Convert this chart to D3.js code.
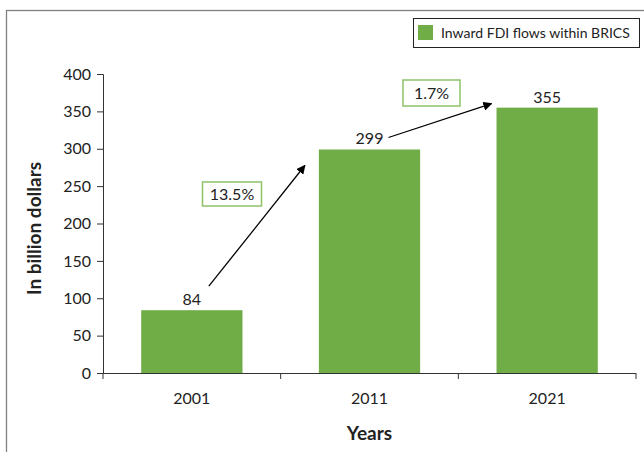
<!DOCTYPE html>
<html>
<head>
<meta charset="utf-8">
<script src="https://cdn.jsdelivr.net/npm/d3@7"></script>
<style>
  html, body { margin: 0; padding: 0; background: #fff; }
  svg { display: block; }
  text { font-family: Lato, "Open Sans", "DejaVu Sans", sans-serif; fill: #222; }
</style>
</head>
<body>
<svg id="chart" width="644" height="452"></svg>
<script>
// Inward FDI flows within BRICS, billion dollars
const years = ["2001", "2011", "2021"];
const values = [84, 299, 355];
const yTicks = [0, 50, 100, 150, 200, 250, 300, 350, 400];
const growthLabels = ["13.5%", "1.7%"];
const seriesName = "Inward FDI flows within BRICS";

const green = "#70ad47";
const svg = d3.select("#chart");
const margin = { left: 103, right: 8, top: 74, bottom: 79 };
const W = 644, H = 452;

// outer frame
svg.append("rect")
  .attr("x", 6.5).attr("y", 10.5)
  .attr("width", 660).attr("height", 460)
  .attr("fill", "none").attr("stroke", "#808080").attr("stroke-width", 1.3);

const x = d3.scaleBand()
  .domain(years)
  .range([margin.left, W - margin.right])
  .paddingInner(0.43)
  .paddingOuter(0.215);

const y = d3.scaleLinear()
  .domain([0, 400])
  .range([H - margin.bottom, margin.top]);

// bars
svg.append("g").selectAll("rect")
  .data(values)
  .join("rect")
  .attr("x", (d, i) => x(years[i]))
  .attr("y", d => y(d))
  .attr("width", x.bandwidth())
  .attr("height", d => y(0) - y(d))
  .attr("fill", green);

// y axis
const yAxis = svg.append("g")
  .attr("transform", `translate(${margin.left},0)`)
  .call(d3.axisLeft(y).tickValues(yTicks).tickSize(6).tickPadding(6));
yAxis.select(".domain").attr("stroke", "#333");
yAxis.selectAll(".tick line").attr("stroke", "#333");
yAxis.selectAll(".tick text")
  .style("font-size", "16px").style("font-family", "Lato, sans-serif").attr("fill", "#222");

// x axis: ticks sit on category boundaries
const xAxisG = svg.append("g")
  .attr("transform", `translate(0,${y(0)})`);
xAxisG.append("line")
  .attr("x1", margin.left).attr("x2", W - margin.right)
  .attr("y1", 0.5).attr("y2", 0.5)
  .attr("stroke", "#333");
const step = x.step();
const bounds = d3.range(years.length + 1).map(i => margin.left + i * step);
xAxisG.selectAll("line.b")
  .data(bounds)
  .join("line")
  .attr("class", "b")
  .attr("x1", d => d).attr("x2", d => d)
  .attr("y1", 0).attr("y2", 6)
  .attr("stroke", "#333");
xAxisG.selectAll("text")
  .data(years)
  .join("text")
  .attr("x", d => x(d) + x.bandwidth() / 2)
  .attr("y", 31)
  .attr("text-anchor", "middle")
  .style("font-size", "16px")
  .text(d => d);

// axis titles
svg.append("text")
  .attr("x", margin.left + (W - margin.right - margin.left) / 2)
  .attr("y", 440)
  .attr("text-anchor", "middle")
  .style("font-size", "19px").style("font-weight", "bold")
  .text("Years");
svg.append("text")
  .attr("transform", `translate(41,${(y(0) + y(400)) / 2 + 5}) rotate(-90)`)
  .attr("text-anchor", "middle")
  .style("font-size", "19px").style("font-weight", "bold")
  .text("In billion dollars");

// value labels
svg.append("g").selectAll("text")
  .data(values)
  .join("text")
  .attr("x", (d, i) => x(years[i]) + x.bandwidth() / 2)
  .attr("y", d => y(d) - 5)
  .attr("text-anchor", "middle")
  .style("font-size", "16px")
  .text(d => d);

// legend
const lg = svg.append("g");
lg.append("rect")
  .attr("x", 413.5).attr("y", 18.5).attr("width", 226).attr("height", 29)
  .attr("fill", "#fff").attr("stroke", "#222");
lg.append("rect")
  .attr("x", 418).attr("y", 25).attr("width", 15).attr("height", 15)
  .attr("fill", green);
lg.append("text")
  .attr("x", 441).attr("y", 38)
  .style("font-size", "14px")
  .text(seriesName);

// growth arrows
svg.append("defs").append("marker")
  .attr("id", "arrowhead")
  .attr("viewBox", "0 0 10 10")
  .attr("refX", 9).attr("refY", 5)
  .attr("markerWidth", 7).attr("markerHeight", 7)
  .attr("orient", "auto")
  .append("path").attr("d", "M0,0 L10,5 L0,10 Z").attr("fill", "#000");

const arrows = [
  { x1: x(years[0]) + x.bandwidth() / 2 + 17, y1: y(values[0]) - 24,
    x2: x(years[1]) - 14, y2: y(values[1]) + 16 },
  { x1: x(years[1]) + x.bandwidth() / 2 + 19, y1: y(values[1]) - 12,
    x2: x(years[2]) - 5, y2: y(values[2]) - 4 }
];
svg.append("g").selectAll("line")
  .data(arrows)
  .join("line")
  .attr("x1", d => d.x1).attr("y1", d => d.y1)
  .attr("x2", d => d.x2).attr("y2", d => d.y2)
  .attr("stroke", "#000").attr("stroke-width", 1.3)
  .attr("marker-end", "url(#arrowhead)");

// growth rate boxes
const boxes = [
  { cx: 232, cy: 194, w: 59, h: 24 },
  { cx: 431.5, cy: 93, w: 57, h: 26 }
];
const bg = svg.append("g").selectAll("g")
  .data(boxes)
  .join("g");
bg.append("rect")
  .attr("x", d => d.cx - d.w / 2).attr("y", d => d.cy - d.h / 2)
  .attr("width", d => d.w).attr("height", d => d.h)
  .attr("fill", "#fff").attr("stroke", "#8cc26a").attr("stroke-width", 1.5);
bg.append("text")
  .attr("x", d => d.cx).attr("y", d => d.cy + 6)
  .attr("text-anchor", "middle")
  .style("font-size", "16px")
  .text((d, i) => growthLabels[i]);
</script>
</body>
</html>
